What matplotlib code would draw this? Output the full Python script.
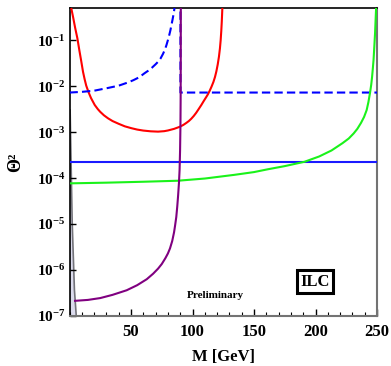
import numpy as np
import matplotlib
matplotlib.use("Agg")
import matplotlib.pyplot as plt
from matplotlib.ticker import FixedLocator, MultipleLocator

plt.rcParams['font.family'] = ['Liberation Serif', 'DejaVu Serif']
plt.rcParams['font.weight'] = 'bold'
plt.rcParams['mathtext.fontset'] = 'custom'
plt.rcParams['mathtext.rm'] = 'Liberation Serif:bold'
plt.rcParams['mathtext.bf'] = 'Liberation Serif:bold'
plt.rcParams['mathtext.it'] = 'Liberation Serif:bold:italic'

# ---- data (M in GeV, log10 of Theta^2) ----
red_M = [1.0, 1.4, 3.0, 4.5, 6.4, 8.0, 9.5, 11, 12.3, 13.6, 15.6, 17.5, 20.5, 23, 25,
         28, 31.3, 35, 40, 45, 50.3, 55, 60, 66, 72, 77, 80, 85, 89.6, 92.5, 95, 97,
         99, 101, 103, 105, 107.2, 109, 111, 112.5, 114, 115.5, 117, 118.3, 119.4,
         120.5, 121.5, 122.3, 122.9, 123.4, 123.8, 124.2, 124.5]
red_logT = [-0.22, -0.3, -0.51, -0.72, -0.96, -1.22, -1.45, -1.69, -1.85, -1.99,
            -2.14, -2.26, -2.41, -2.50, -2.56, -2.635, -2.70, -2.76, -2.82, -2.875,
            -2.915, -2.945, -2.967, -2.983, -2.99, -2.98, -2.965, -2.93, -2.885,
            -2.845, -2.80, -2.76, -2.71, -2.65, -2.58, -2.50, -2.41, -2.33, -2.245,
            -2.18, -2.10, -2.01, -1.91, -1.80, -1.68, -1.53, -1.36, -1.18, -1.0, -0.8,
            -0.6, -0.35, -0.15]

bdash_M = [0, 10, 20, 31.3, 40, 47.6, 52, 55, 58, 61, 64, 67, 70, 72, 74, 76, 77.5,
           78.8, 80, 81, 82, 82.9, 83.8, 84.5, 85.1, 85.6, 86.2, 86.6,
           90.2, 90.2, 250]
bdash_logT = [-2.14, -2.125, -2.10, -2.04, -1.99, -1.92, -1.87, -1.83, -1.78, -1.72,
              -1.665, -1.60, -1.525, -1.47, -1.40, -1.30, -1.21, -1.11, -1.00, -0.90,
              -0.79, -0.67, -0.55, -0.45, -0.35, -0.25, -0.1, 0.0,
              0.0, -2.14, -2.14]

bsolid_M = [0, 250]
bsolid_logT = [-3.646, -3.646]

green_M = [0, 30, 60, 88, 110, 134, 150, 161, 175, 191, 203, 213, 222, 227, 231, 234,
           237, 239.5, 241.6, 243, 244.3, 245.3, 246, 246.6, 247.2, 247.8, 248.4,
           248.8, 249.2, 249.6]
green_logT = [-4.115, -4.10, -4.08, -4.058, -4.01, -3.93, -3.87, -3.81, -3.74, -3.646,
              -3.53, -3.40, -3.24, -3.14, -3.03, -2.93, -2.80, -2.67, -2.52, -2.35,
              -2.15, -1.97, -1.80, -1.62, -1.43, -1.15, -0.86, -0.6, -0.35, 0.0]

purple_M = [4.5, 15, 25, 35, 46.5, 55, 62.8, 68, 72, 75, 78, 80, 81.7, 83.5, 85,
            85.8, 86.8, 87.6, 88.3, 89, 89.5, 89.9, 90.2, 90.35, 90.45, 90.5]
purple_logT = [-6.67, -6.65, -6.61, -6.54, -6.44, -6.33, -6.20, -6.08, -5.97, -5.87,
               -5.74, -5.64, -5.53, -5.37, -5.18, -5.04, -4.85, -4.62, -4.38, -4.10,
               -3.82, -3.40, -2.85, -2.3, -1.5, -0.2]

gray_edge_M = [0.5, 2.2, 4.0, 5.5]
gray_edge_logT = [-2.52, -4.98, -6.43, -7.0]

x_ticks = [50, 100, 150, 200, 250]
y_ticks = [1e-7, 1e-6, 1e-5, 1e-4, 1e-3, 1e-2, 1e-1]

# ---- figure ----
fig = plt.figure(figsize=(3.91, 3.66), dpi=100)
ax = fig.add_axes([69.5 / 391, 1 - 316 / 366, (377 - 69.5) / 391, (316 - 8) / 366])

def p(v):
    return 10.0 ** np.asarray(v)

# gray excluded wedge
gx = [0] + gray_edge_M + [0]
gy = list(p(gray_edge_logT[:1])) + list(p(gray_edge_logT)) + [1e-7]
ax.fill(gx, gy, facecolor=(0.86, 0.86, 0.93), edgecolor=(0.45, 0.45, 0.48),
        linewidth=1.2, zorder=1)

lw = 1.5
ax.plot(red_M, p(red_logT), color=(1, 0, 0), lw=lw, zorder=3)
ax.plot(bdash_M, p(bdash_logT), color=(0, 0, 1), lw=lw, ls=(0, (4, 2)), zorder=3)
ax.plot(bsolid_M, p(bsolid_logT), color=(0.1, 0.1, 1), lw=lw, zorder=3)
ax.plot(green_M, p(green_logT), color=(0.1, 0.95, 0.1), lw=lw, zorder=3)
ax.plot(purple_M, p(purple_logT), color=(0.5, 0, 0.5), lw=lw, zorder=4)

ax.set_yscale('log')
ax.set_xlim(0, 250)
ax.set_ylim(1e-7, 0.5)

ax.xaxis.set_major_locator(FixedLocator(x_ticks))
ax.xaxis.set_minor_locator(MultipleLocator(10))
ax.yaxis.set_major_locator(FixedLocator(y_ticks))
ax.yaxis.set_minor_locator(FixedLocator([]))

ax.tick_params(axis='both', which='both', direction='in', top=False, right=False)
ax.tick_params(axis='x', which='major', length=5, width=1, labelsize=12, pad=6)
ax.tick_params(axis='x', which='minor', length=3, width=0.8)
ax.tick_params(axis='y', which='major', length=4, width=1, labelsize=11, pad=3)

for s in ['bottom', 'right']:
    ax.spines[s].set_color((0.45, 0.45, 0.45))
    ax.spines[s].set_linewidth(1.5)
ax.spines['top'].set_color('black')
ax.spines['top'].set_linewidth(1.2)
ax.spines['left'].set_color('black')
ax.spines['left'].set_linewidth(1.2)

ax.set_xlabel('M [GeV]', fontsize=12, fontweight='bold', labelpad=6)
ax.set_ylabel('Θ²', fontsize=13, fontweight='bold', labelpad=9)

ax.text(0.476, 0.068, 'Preliminary', transform=ax.transAxes, fontsize=8,
        fontweight='bold', ha='center', va='center')
ax.text(0.798, 0.112, 'ILC', transform=ax.transAxes, fontsize=12,
        fontweight='bold', ha='center', va='center',
        bbox=dict(boxstyle='square,pad=0.2', facecolor='white',
                  edgecolor='black', linewidth=2.2))

fig.savefig('out.png', dpi=100)
